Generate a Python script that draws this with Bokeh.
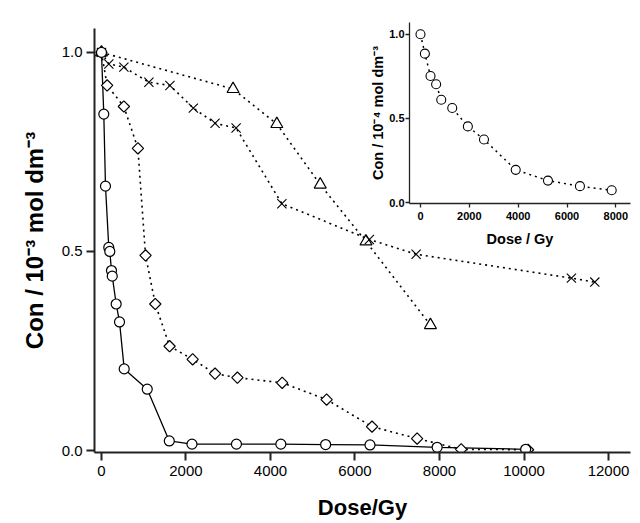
import numpy as np
from bokeh.plotting import figure
from bokeh.layouts import column
from bokeh.models import Range1d, FixedTicker, PrintfTickFormatter
from bokeh.embed import file_html
from bokeh.resources import INLINE

# ---------------- data ----------------
dose_circ = [0, 55, 95, 173, 197, 237, 255, 348, 427, 538, 1083, 1605, 2142, 3194, 4245, 5305, 6355, 7944, 10039]
con_circ = [1.0, 0.845, 0.664, 0.510, 0.500, 0.452, 0.438, 0.368, 0.323, 0.205, 0.154, 0.024, 0.016, 0.016, 0.016, 0.015, 0.014, 0.008, 0.003]

dose_dia = [0, 134, 530, 862, 1043, 1273, 1612, 2158, 2688, 3217, 4277, 5328, 6403, 7470, 8513, 10095]
con_dia = [1.0, 0.917, 0.864, 0.759, 0.490, 0.368, 0.262, 0.229, 0.193, 0.183, 0.170, 0.128, 0.060, 0.030, 0.003, 0.002]

dose_x = [0, 174, 530, 1122, 1620, 2174, 2688, 3186, 4269, 6340, 7446, 11122, 11675]
con_x = [1.0, 0.971, 0.963, 0.925, 0.917, 0.860, 0.822, 0.810, 0.620, 0.530, 0.493, 0.433, 0.423]

dose_tri = [0, 3114, 4150, 5177, 6260, 7785]
con_tri = [1.0, 0.908, 0.820, 0.668, 0.525, 0.315]

dose_in = [0, 180, 410, 640, 850, 1300, 1940, 2600, 3900, 5220, 6530, 7830]
con_in = [1.0, 0.885, 0.752, 0.703, 0.611, 0.562, 0.453, 0.375, 0.195, 0.131, 0.098, 0.074]

main_xticks = [0, 2000, 4000, 6000, 8000, 10000, 12000]
main_yticks = [0.0, 0.5, 1.0]
inset_xticks = [0, 2000, 4000, 6000, 8000]
inset_yticks = [0.0, 0.5, 1.0]

FONT = "Liberation Sans"

# ---------------- main figure ----------------
p = figure(width=640, height=523, output_backend="svg", toolbar_location=None,
           x_range=Range1d(-165, 12520), y_range=Range1d(-0.005, 1.06),
           min_border_left=94, min_border_right=10, min_border_top=28, min_border_bottom=71)
p.outline_line_color = None
p.grid.visible = False
p.background_fill_color = "white"
p.border_fill_color = "white"

for ax in (p.xaxis[0], p.yaxis[0]):
    ax.axis_line_width = 2
    ax.axis_line_color = "#222222"
    ax.major_tick_line_width = 2
    ax.major_tick_line_color = "#222222"
    ax.major_tick_in = 0
    ax.major_tick_out = 8
    ax.minor_tick_line_color = None
    ax.major_label_text_font = FONT
    ax.major_label_text_font_size = "15px"
    ax.major_label_text_color = "black"
    ax.axis_label_text_font = FONT
    ax.axis_label_text_font_style = "bold"
    ax.axis_label_text_color = "black"

p.xaxis.ticker = FixedTicker(ticks=main_xticks)
p.yaxis.ticker = FixedTicker(ticks=main_yticks)
p.yaxis.formatter = PrintfTickFormatter(format="%.1f")
p.xaxis.axis_label = "Dose/Gy"
p.xaxis.axis_label_text_font_size = "22px"
p.xaxis.major_label_standoff = 5
p.xaxis.axis_label_standoff = 16
p.yaxis.axis_label = "Con / 10\u207b\u00b3 mol dm\u207b\u00b3"
p.yaxis.axis_label_text_font_size = "24px"
p.yaxis.major_label_standoff = 4
p.yaxis.axis_label_standoff = 11

DOT = "2 4"
p.line(dose_tri, con_tri, line_color="black", line_width=1.6, line_dash=DOT)
p.line(dose_x, con_x, line_color="black", line_width=1.6, line_dash=DOT)
p.line(dose_dia, con_dia, line_color="black", line_width=1.6, line_dash=DOT)
p.line(dose_circ, con_circ, line_color="black", line_width=1.3)

p.scatter(dose_tri, con_tri, marker="triangle", size=12, fill_color="white", line_color="black", line_width=1.2)
p.scatter(dose_x, con_x, marker="x", size=13, line_color="black", line_width=1.1)
p.scatter(dose_dia, con_dia, marker="square", angle=np.pi / 4, size=8, fill_color="white", line_color="black", line_width=1.2)
p.scatter(dose_circ, con_circ, marker="circle", size=10, fill_color="white", line_color="black", line_width=1.2)

# ---------------- inset figure ----------------
q = figure(width=325, height=238, output_backend="svg", toolbar_location=None,
           x_range=Range1d(-450, 8600), y_range=Range1d(-0.005, 1.07),
           min_border_left=94, min_border_right=10, min_border_top=10, min_border_bottom=47,
           sizing_mode="fixed",
           styles={"position": "absolute", "left": "315px", "top": "12px",
                   "width": "325px", "height": "238px"})
q.outline_line_color = None
q.grid.visible = False
q.background_fill_alpha = 0
q.border_fill_alpha = 0

for ax in (q.xaxis[0], q.yaxis[0]):
    ax.axis_line_width = 1.3
    ax.axis_line_color = "#222222"
    ax.major_tick_line_width = 1.3
    ax.major_tick_line_color = "#222222"
    ax.major_tick_in = 0
    ax.major_tick_out = 4
    ax.minor_tick_line_color = None
    ax.major_label_text_font = FONT
    ax.major_label_text_font_size = "11px"
    ax.major_label_text_font_style = "bold"
    ax.major_label_text_color = "black"
    ax.axis_label_text_font = FONT
    ax.axis_label_text_font_style = "bold"
    ax.axis_label_text_font_size = "14.5px"
    ax.axis_label_text_color = "black"

q.xaxis.ticker = FixedTicker(ticks=inset_xticks)
q.yaxis.ticker = FixedTicker(ticks=inset_yticks)
q.yaxis.formatter = PrintfTickFormatter(format="%.1f")
q.xaxis.axis_label = "Dose / Gy"
q.xaxis.major_label_standoff = 4
q.xaxis.axis_label_standoff = 8
q.yaxis.axis_label = "Con / 10\u207b\u2074 mol dm\u207b\u00b3"
q.yaxis.major_label_standoff = 1
q.yaxis.axis_label_standoff = 0

q.line(dose_in, con_in, line_color="black", line_width=1.5, line_dash=DOT)
q.scatter(dose_in, con_in, marker="circle", size=9, fill_color="white", line_color="black", line_width=1.1)

layout = column(p, q)
open("out.html", "w").write(file_html(layout, INLINE))
